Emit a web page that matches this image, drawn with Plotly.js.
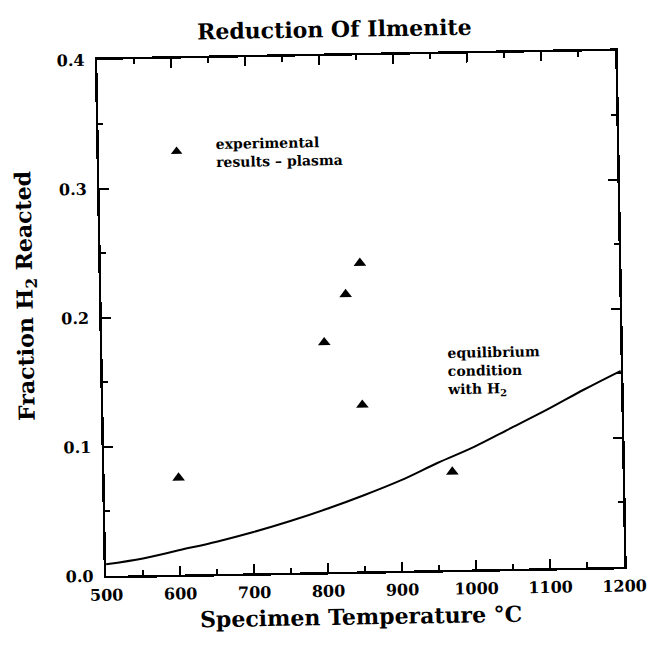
<!DOCTYPE html>
<html>
<head>
<meta charset="utf-8">
<script src="https://cdn.plot.ly/plotly-3.0.1.min.js"></script>
<style>
  html, body { margin: 0; padding: 0; background: #fff; }
  #plot { width: 653px; height: 656px; transform: rotate(-1deg); transform-origin: 50% 50%; }
</style>
</head>
<body>
<div id="plot"></div>
<script>
// Equilibrium curve (fraction H2 reacted vs specimen temperature)
const eqTemp = [500, 550, 600, 650, 700, 750, 800, 850, 900, 950, 1000, 1050, 1100, 1150, 1200];
const eqFrac = [0.009, 0.013, 0.019, 0.025, 0.032, 0.040, 0.049, 0.059, 0.070, 0.083, 0.095, 0.109, 0.123, 0.138, 0.152];

// Experimental results - plasma
const expTemp = [600, 800, 830, 850, 850, 970];
const expFrac = [0.075, 0.178, 0.215, 0.239, 0.129, 0.076];

// Key symbol beside the "experimental results - plasma" label
const keyTemp = [605];
const keyFrac = [0.328];

// Tick labels
const xTicks = [500, 600, 700, 800, 900, 1000, 1100, 1200];
const yTicks = [0.0, 0.1, 0.2, 0.3, 0.4];

const FONT = "DejaVu Serif";

const traces = [
  {
    x: eqTemp, y: eqFrac, type: 'scatter', mode: 'lines',
    line: { color: '#000', width: 2, shape: 'spline' },
    hoverinfo: 'skip', showlegend: false
  },
  {
    x: expTemp, y: expFrac, type: 'scatter', mode: 'markers',
    marker: { symbol: 'triangle-up', size: 11, color: '#000' },
    showlegend: false
  },
  {
    x: keyTemp, y: keyFrac, type: 'scatter', mode: 'markers',
    marker: { symbol: 'triangle-up', size: 10, color: '#000' },
    showlegend: false
  }
];

const axisCommon = {
  showgrid: false, zeroline: false,
  showline: true, linecolor: '#000', linewidth: 2.5,
  mirror: 'ticks', ticks: 'inside', tickcolor: '#000', tickwidth: 2, ticklen: 9,
  tickfont: { family: FONT, size: 16, color: '#000', weight: 'bold' }
};

const layout = {
  width: 653, height: 656,
  margin: { l: 102, r: 33, t: 56, b: 84 },
  paper_bgcolor: '#fff', plot_bgcolor: '#fff',
  title: {
    text: 'Reduction Of Ilmenite',
    font: { family: FONT, size: 22, color: '#000', weight: 'bold' },
    x: 0.52, xanchor: 'center', y: 0.955, yanchor: 'middle'
  },
  xaxis: Object.assign({}, axisCommon, {
    range: [500, 1200], tickmode: 'array', tickvals: xTicks, ticktext: xTicks.map(String),
    ticklabelstandoff: 3,
    minor: { dtick: 50, tick0: 500, ticks: 'inside', ticklen: 5, tickwidth: 2, tickcolor: '#000' }
  }),
  yaxis: Object.assign({}, axisCommon, {
    range: [0, 0.4], tickmode: 'array', tickvals: yTicks, ticktext: yTicks.map(v => v.toFixed(1)),
    ticklabelstandoff: 7,
    minor: { dtick: 0.05, tick0: 0, ticks: 'inside', ticklen: 5, tickwidth: 2, tickcolor: '#000' }
  }),
  annotations: [
    {
      // x-axis title
      x: 0.49, y: -0.058, xref: 'paper', yref: 'paper', xanchor: 'center', yanchor: 'top',
      text: 'Specimen Temperature °C', showarrow: false,
      font: { family: FONT, size: 22, color: '#000', weight: 'bold' }
    },
    {
      // y-axis title, placed as in the reference (above plot centre)
      x: -0.145, y: 0.545, xref: 'paper', yref: 'paper', xanchor: 'center', yanchor: 'middle',
      text: 'Fraction H<sub>2</sub> Reacted', textangle: -90, showarrow: false,
      font: { family: FONT, size: 22, color: '#000', weight: 'bold' }
    },
    {
      x: 655, y: 0.341, xref: 'x', yref: 'y', xanchor: 'left', yanchor: 'top',
      text: 'experimental<br>results – plasma', showarrow: false, align: 'left',
      font: { family: FONT, size: 14, color: '#000', weight: 'bold' }
    },
    {
      x: 962, y: 0.176, xref: 'x', yref: 'y', xanchor: 'left', yanchor: 'top',
      text: 'equilibrium<br>condition<br>with H<sub>2</sub>', showarrow: false, align: 'left',
      font: { family: FONT, size: 14, color: '#000', weight: 'bold' }
    }
  ],
  showlegend: false
};

Plotly.newPlot('plot', traces, layout, { staticPlot: true, displayModeBar: false });
</script>
</body>
</html>
